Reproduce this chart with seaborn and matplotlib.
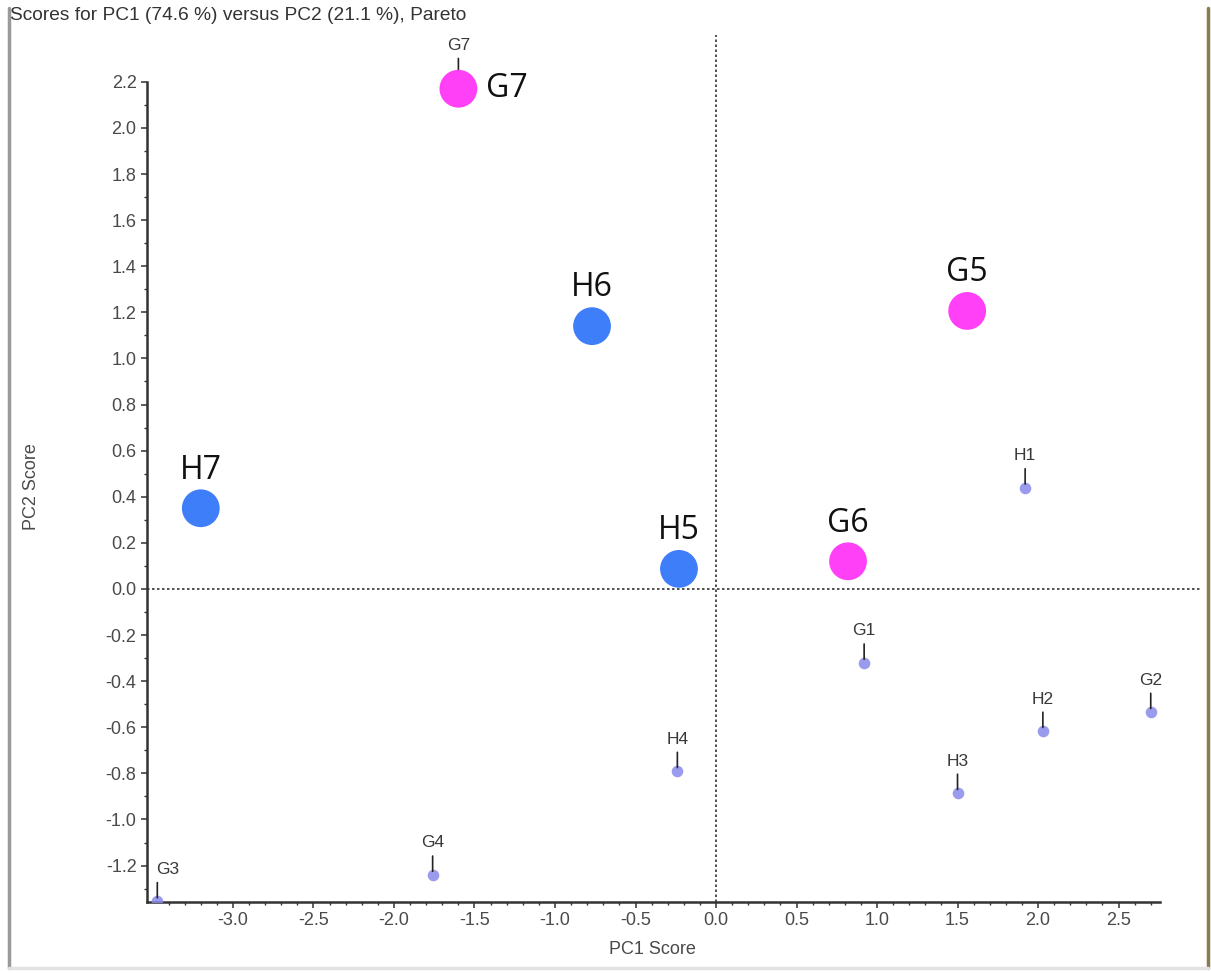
import numpy as np
import pandas as pd
import matplotlib
matplotlib.use("Agg")
import matplotlib.pyplot as plt
from matplotlib.lines import Line2D
from matplotlib.ticker import FixedLocator
import seaborn as sns

# Sample scores (small markers)
sample_names = ["H1", "G1", "H2", "G2", "H3", "H4", "G4", "G3", "G7"]
sample_pc1 = [1.92, 0.92, 2.03, 2.70, 1.50, -0.24, -1.76, -3.47, -1.60]
sample_pc2 = [0.44, -0.32, -0.616, -0.534, -0.885, -0.79, -1.24, -1.355, 2.22]

# Highlighted scores (large markers)
hl_names = ["G7", "H6", "G5", "H7", "H5", "G6"]
hl_pc1 = [-1.60, -0.77, 1.56, -3.20, -0.23, 0.82]
hl_pc2 = [2.17, 1.14, 1.206, 0.35, 0.087, 0.12]
hl_group = ["G", "H", "G", "H", "H", "G"]

group_colors = {"G": "#ff40f6", "H": "#3f7ef9"}

title = "Scores for PC1 (74.6 %) versus PC2 (21.1 %), Pareto"
x_ticks = [-3.0, -2.5, -2.0, -1.5, -1.0, -0.5, 0.0, 0.5, 1.0, 1.5, 2.0, 2.5]
y_ticks = [-1.2, -1.0, -0.8, -0.6, -0.4, -0.2, 0.0, 0.2, 0.4, 0.6, 0.8,
           1.0, 1.2, 1.4, 1.6, 1.8, 2.0, 2.2]

sns.set_theme(style="white")
plt.rcParams["font.family"] = ["Liberation Sans", "DejaVu Sans"]

W, H = 1211, 973
fig = plt.figure(figsize=(W / 100, H / 100), dpi=100)
fig.patch.set_facecolor("white")

ax_l, ax_r, ax_t, ax_b = 147, 1200, 35, 902
ax = fig.add_axes([ax_l / W, 1 - ax_b / H, (ax_r - ax_l) / W, (ax_b - ax_t) / H])
ax.set_facecolor("white")

xmin, xmax = -3.534, 3.006
ymin, ymax = -1.358, 2.403
ax.set_xlim(xmin, xmax)
ax.set_ylim(ymin, ymax)

# zero reference lines
ax.axvline(0, color="#333333", lw=1.2, ls=(0, (1.5, 1.5)), zorder=1)
ax.axhline(0, color="#333333", lw=1.2, ls=(0, (1.5, 1.5)), zorder=1)

samples = pd.DataFrame({"PC1": sample_pc1, "PC2": sample_pc2, "name": sample_names})
sns.scatterplot(data=samples, x="PC1", y="PC2", ax=ax, color="#8a8aea",
                s=70, linewidth=0, alpha=0.85, zorder=3, legend=False)

for n, x, y in zip(sample_names, sample_pc1, sample_pc2):
    ax.annotate("", xy=(x, y), xytext=(0, 13.5), textcoords="offset points",
                arrowprops=dict(arrowstyle="-", color="#222222", lw=1.2,
                                shrinkA=0, shrinkB=2.5), zorder=3)
    # labels at the left edge are pushed inside the plot area
    inside = x - xmin < 0.15
    ax.annotate(n, xy=(x, y), xytext=(-1 if inside else 0, 23),
                textcoords="offset points",
                ha="left" if inside else "center", va="center",
                fontsize=12.5, color="#383838", zorder=3)

highlights = pd.DataFrame({"PC1": hl_pc1, "PC2": hl_pc2, "group": hl_group,
                           "name": hl_names})
sns.scatterplot(data=highlights, x="PC1", y="PC2", hue="group",
                palette=group_colors, ax=ax, s=740, linewidth=0,
                zorder=5, legend=False)

for n, x, y in zip(hl_names, hl_pc1, hl_pc2):
    if n == "G7":
        ax.annotate(n, xy=(x, y), xytext=(20, 0), textcoords="offset points",
                    ha="left", va="center", fontsize=23, color="#111111",
                    family=["Open Sans", "DejaVu Sans"], zorder=6)
    else:
        ax.annotate(n, xy=(x, y), xytext=(0, 27.5), textcoords="offset points",
                    ha="center", va="center", fontsize=23, color="#111111",
                    family=["Open Sans", "DejaVu Sans"], zorder=6)

# axes styling
for side in ("top", "right"):
    ax.spines[side].set_visible(False)
for side in ("left", "bottom"):
    ax.spines[side].set_color("#333333")
    ax.spines[side].set_linewidth(1.8)
ax.spines["left"].set_bounds(ymin, 2.2)
ax.spines["bottom"].set_bounds(xmin, 2.76)

ax.xaxis.set_major_locator(FixedLocator(x_ticks))
ax.yaxis.set_major_locator(FixedLocator(y_ticks))
ax.set_xticklabels([f"{v:.1f}" for v in x_ticks])
ax.set_yticklabels([f"{v:.1f}" for v in y_ticks])
ax.xaxis.set_minor_locator(FixedLocator(
    [v / 10 for v in range(-35, 28) if v % 5 != 0]))
ax.yaxis.set_minor_locator(FixedLocator(
    [v / 10 for v in range(-13, 23) if v % 2 != 0]))
ax.tick_params(axis="both", which="major", direction="out", length=4.5,
               width=1.1, color="#333333", labelsize=13, labelcolor="#4a4a4a",
               pad=3, bottom=True, left=True)
ax.tick_params(axis="both", which="minor", direction="out", length=2.5,
               width=1.0, color="#333333", bottom=True, left=True)
ax.set_xlabel("")
ax.set_ylabel("")

fig.text(10 / W, 1 - 15 / H, title, ha="left", va="center", fontsize=13.8,
         color="#333333")
fig.text(652 / W, 1 - 950 / H, "PC1 Score", ha="center", va="center",
         fontsize=13, color="#4a4a4a")
fig.text(31 / W, 1 - 487 / H, "PC2 Score", ha="center", va="center",
         fontsize=13, color="#4a4a4a", rotation=90)

# window frame
fig.add_artist(Line2D([9 / W, 9 / W], [1 - 8 / H, 1 - 968 / H],
                      transform=fig.transFigure, color="#9a9a9a", lw=2.5))
fig.add_artist(Line2D([1208 / W, 1208 / W], [1 - 8 / H, 1 - 968 / H],
                      transform=fig.transFigure, color="#8c7a4e", lw=2.5))
fig.add_artist(Line2D([9 / W, 1208 / W], [1 - 968 / H, 1 - 968 / H],
                      transform=fig.transFigure, color="#e2e2e2", lw=2.5))

fig.savefig("out.png", dpi=100, facecolor="white")
